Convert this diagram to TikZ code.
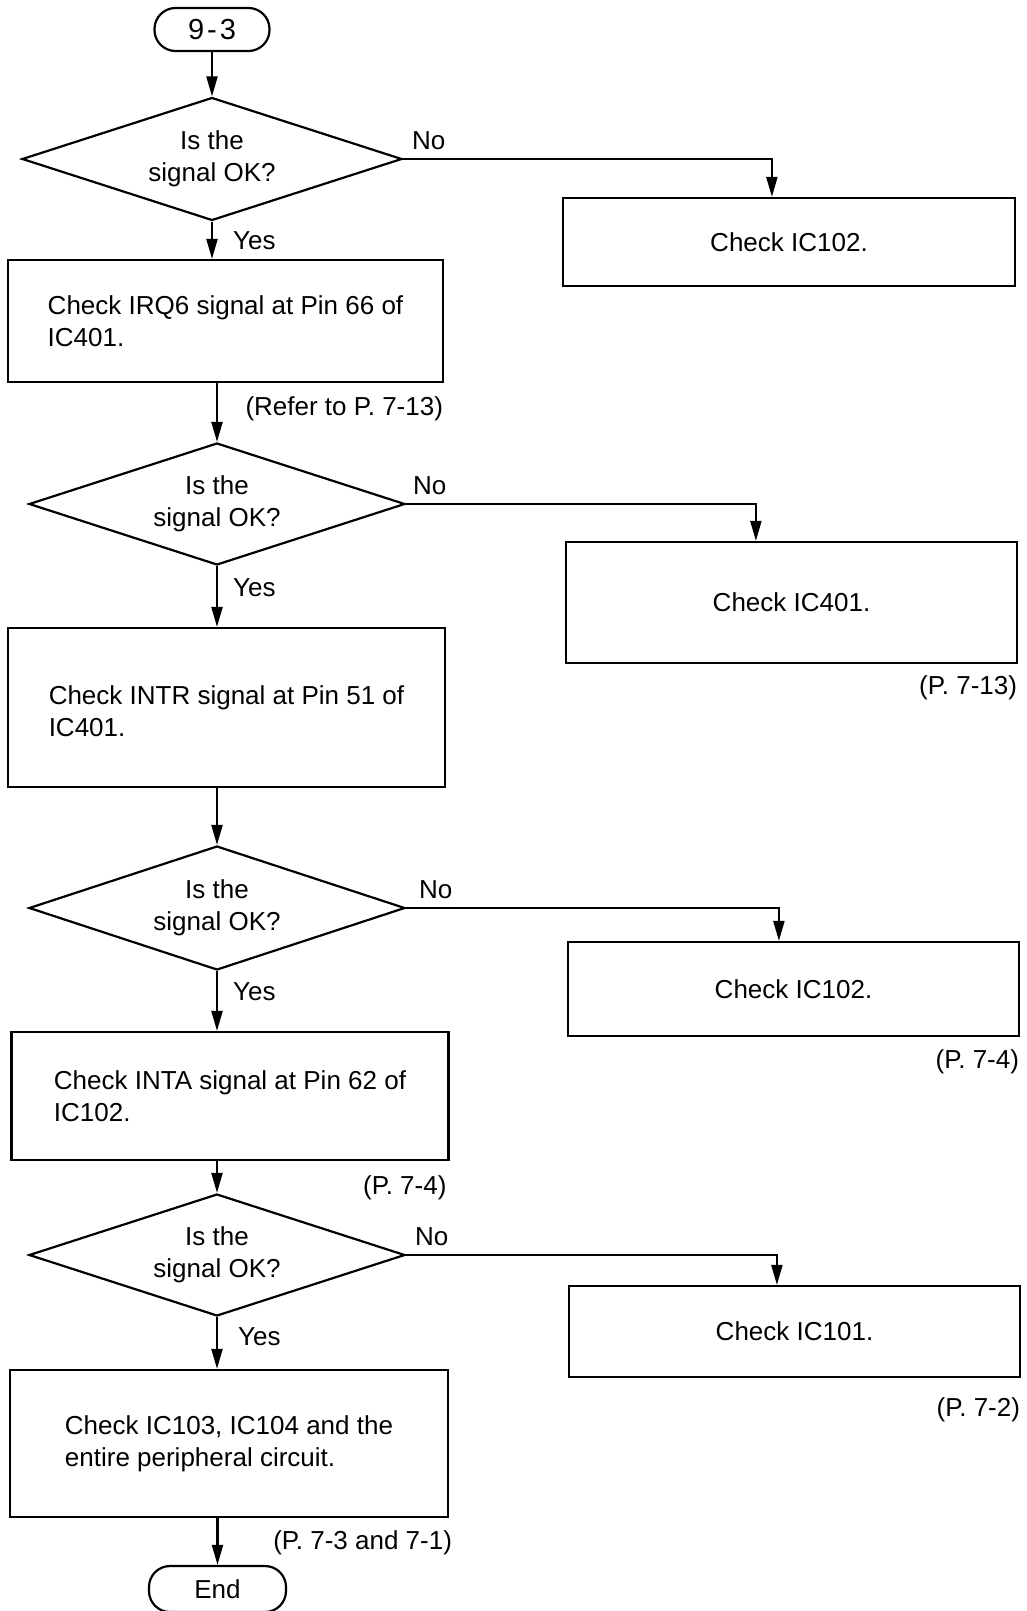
\documentclass[tikz,border=0pt]{standalone}
\usepackage{fontspec}
\setmainfont{Liberation Sans}
\usetikzlibrary{shapes.geometric,arrows.meta}
\tikzset{
  txt/.style={font=\fontsize{26}{32}\selectfont},
  term/.style={draw, txt, rectangle, rounded corners=21pt, inner sep=0pt},
  decide/.style={draw, txt, diamond, aspect=3, inner sep=0pt, align=center},
  procbox/.style={draw, txt, rectangle, inner sep=0pt, align=left},
  lbl/.style={txt, inner sep=0pt},
  arr/.style={-{Triangle[length=20pt,width=11pt]}}
}
\begin{document}
\begin{tikzpicture}[x=1pt,y=-1pt,line width=2.2pt]
\fill[white] (0,0) rectangle (1027,1611);
\useasboundingbox (0,0) rectangle (1027,1611);

% main column
\node[term, minimum width=115pt, minimum height=43pt, font=\fontsize{29}{32}\selectfont] (start) at (212,29.5) {9\kern3pt-\kern3pt3};
\node[decide, minimum width=380pt, minimum height=123pt] (d1) at (212,159) {Is the\\signal OK?};
\node[procbox, minimum width=435pt, minimum height=122pt] (b1) at (225.5,321) {Check IRQ6 signal at Pin 66 of\\IC401.};
\node[decide, minimum width=376pt, minimum height=122pt] (d2) at (217,504) {Is the\\signal OK?};
\node[procbox, minimum width=437pt, minimum height=159pt] (b2) at (226.5,707.5) {\rule{0pt}{27pt}Check INTR signal at Pin 51 of\\IC401.};
\node[decide, minimum width=376pt, minimum height=124pt] (d3) at (217,908) {Is the\\signal OK?};
\node[procbox, minimum width=437pt, minimum height=128pt] (b3) at (230,1096) {Check INTA signal at Pin 62 of\\IC102.};
\node[decide, minimum width=376pt, minimum height=122pt] (d4) at (217,1255) {Is the\\signal OK?};
\node[procbox, minimum width=438pt, minimum height=147pt] (b4) at (229,1443.5) {Check IC103, IC104 and the\\entire peripheral circuit.};
\node[term, minimum width=137pt, minimum height=46pt] (end) at (217.5,1589) {End};

% right column
\node[procbox, minimum width=452pt, minimum height=88pt] (r1) at (789,242) {Check IC102.};
\node[procbox, minimum width=451pt, minimum height=121pt] (r2) at (791.5,602.5) {Check IC401.};
\node[procbox, minimum width=451pt, minimum height=94pt] (r3) at (793.5,989) {Check IC102.};
\node[procbox, minimum width=451pt, minimum height=91pt] (r4) at (794.5,1331.5) {Check IC101.};

% vertical flow
\draw[arr] (start.south) -- (d1.north);
\draw[arr] (d1.south) -- (d1.south |- b1.north);
\draw[arr] (b1.south -| d2.north) -- (d2.north);
\draw[arr] (d2.south) -- (d2.south |- b2.north);
\draw[arr] (b2.south -| d3.north) -- (d3.north);
\draw[arr] (d3.south) -- (d3.south |- b3.north);
\draw[arr] (b3.south -| d4.north) -- (d4.north);
\draw[arr] (d4.south) -- (d4.south |- b4.north);
\draw[arr] (b4.south -| end.north) -- (end.north);

% No branches
\draw[arr] (d1.east) -| ([xshift=210pt]r1.north west);
\draw[arr] (d2.east) -| ([xshift=191pt]r2.north west);
\draw[arr] (d3.east) -| ([xshift=212pt]r3.north west);
\draw[arr] (d4.east) -| ([xshift=209pt]r4.north west);

% No / Yes labels
\node[lbl, anchor=base west] (no1) at ([xshift=8pt,yshift=10pt]d1.east) {No};
\node[lbl, anchor=base west] (no2) at ([xshift=6pt,yshift=10pt]d2.east) {No};
\node[lbl, anchor=base west] (no3) at ([xshift=12pt,yshift=10pt]d3.east) {No};
\node[lbl, anchor=base west] (no4) at ([xshift=8pt,yshift=10pt]d4.east) {No};
\node[lbl, anchor=base west] (yes1) at ([xshift=20pt,yshift=-28pt]d1.south) {Yes};
\node[lbl, anchor=base west] (yes2) at ([xshift=15pt,yshift=-30pt]d2.south) {Yes};
\node[lbl, anchor=base west] (yes3) at ([xshift=15pt,yshift=-29pt]d3.south) {Yes};
\node[lbl, anchor=base west] (yes4) at ([xshift=20pt,yshift=-28pt]d4.south) {Yes};

% page references
\node[lbl, anchor=east] (ref1) at ([yshift=-26pt]b1.south east) {(Refer to P. 7-13)};
\node[lbl, anchor=east] (ref2) at ([yshift=-24pt]r2.south east) {(P. 7-13)};
\node[lbl, anchor=east] (ref3) at ([yshift=-25pt]r3.south east) {(P. 7-4)};
\node[lbl, anchor=east] (ref4) at ([xshift=-2pt,yshift=-27pt]b3.south east) {(P. 7-4)};
\node[lbl, anchor=east] (ref5) at ([yshift=-32pt]r4.south east) {(P. 7-2)};
\node[lbl, anchor=east] (ref6) at ([xshift=4pt,yshift=-25pt]b4.south east) {(P. 7-3 and 7-1)};
\end{tikzpicture}
\end{document}
